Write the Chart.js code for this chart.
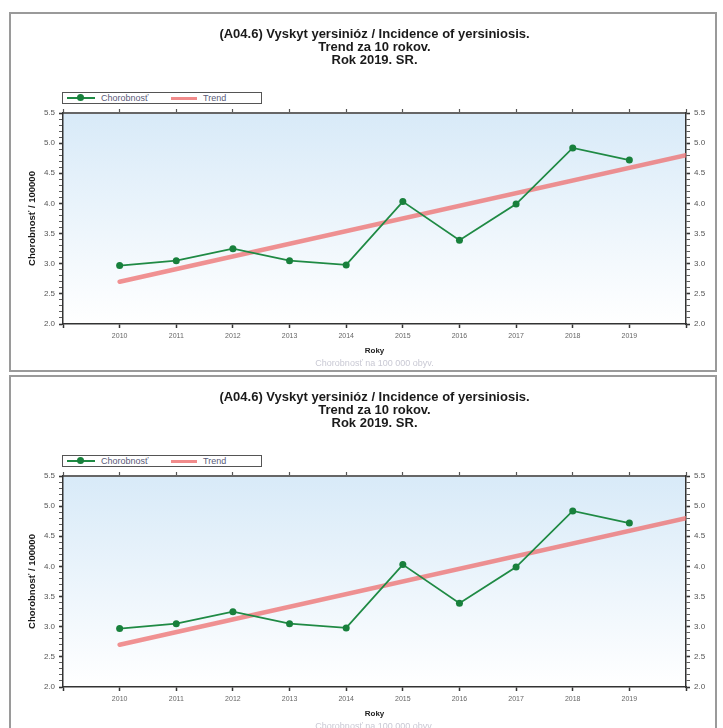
<!DOCTYPE html>
<html>
<head>
<meta charset="utf-8">
<script src="https://cdn.jsdelivr.net/npm/chart.js@4.4.1/dist/chart.umd.min.js"></script>
<style>
  body{margin:0;background:#fff;width:723px;height:728px;overflow:hidden;position:relative;font-family:"Liberation Sans",Arial,sans-serif}
  .frame{position:absolute;left:9px;width:708px;height:360px;box-sizing:border-box;border:2px solid #9a9a9a;background:#fff}
  .frame canvas{position:absolute;left:0;top:0}
  .lgd{position:absolute;left:51px;top:78px;width:200px;height:12px;box-sizing:border-box;border:1px solid #555;background:#fff;font-size:9px;color:#5a5a78}
  .lgd span{position:absolute}
  .lgd .gl{left:4px;top:4px;width:28px;height:2px;background:#1f8a44}
  .lgd .gd{left:14px;top:1px;width:7px;height:7px;border-radius:50%;background:#18803c}
  .lgd .rl{left:108px;top:4px;width:26px;height:3px;background:rgba(238,110,110,.8)}
  .lgd .tx{top:0;line-height:10px}
</style>
</head>
<body>

<div class="frame" style="top:12px">
  <canvas id="chartA" width="704" height="356"></canvas>
  <div class="lgd"><span class="gl"></span><span class="gd"></span><span class="tx" style="left:38px">Chorobnosť</span><span class="rl"></span><span class="tx" style="left:140px">Trend</span></div>
</div>
<div class="frame" style="top:375px">
  <canvas id="chartB" width="704" height="356"></canvas>
  <div class="lgd"><span class="gl"></span><span class="gd"></span><span class="tx" style="left:38px">Chorobnosť</span><span class="rl"></span><span class="tx" style="left:140px">Trend</span></div>
</div>

<script>
/* data */
const YEARS       = [2010,2011,2012,2013,2014,2015,2016,2017,2018,2019];
const INCIDENCE   = [2.97,3.05,3.25,3.05,2.98,4.03,3.39,3.99,4.92,4.72];
const TREND_YEARS = [2010,2020];
const TREND       = [2.70,4.80];
const Y_MIN = 2.0, Y_MAX = 5.5;
const TITLE_LINES = ['(A04.6) Vyskyt yersinióz / Incidence of yersiniosis.','Trend za 10 rokov.','Rok 2019. SR.'];
const Y_TITLE = 'Chorobnosť / 100000';
const X_TITLE = 'Roky';
const FOOTER  = 'Chorobnosť na 100 000 obyv.';

const FONT = '"Liberation Sans", Arial, sans-serif';
const isMajor = v => Math.abs(v*2 - Math.round(v*2)) < 1e-6;
const yLabel  = v => isMajor(v) ? (+v).toFixed(1) : '';
const xLabel  = v => (v >= YEARS[0] && v <= YEARS[YEARS.length-1]) ? String(v) : '';

const plotBg = {
  id:'plotBg',
  beforeDraw(c){
    const {ctx, chartArea:a} = c;
    const g = ctx.createLinearGradient(0,a.top,0,a.bottom);
    g.addColorStop(0,'#d8eaf8');
    g.addColorStop(1,'#ffffff');
    ctx.save();
    ctx.fillStyle = g;
    ctx.fillRect(a.left,a.top,a.right-a.left,a.bottom-a.top);
    ctx.restore();
  }
};

function yAxis(pos, width, withTitle){
  return {
    position:pos, min:Y_MIN, max:Y_MAX,
    ticks:{ stepSize:0.1, autoSkip:false, padding:4, color:'#555', font:{family:FONT,size:8}, callback:yLabel },
    grid:{ drawOnChartArea:false, tickLength:4, tickColor:'#333', tickWidth:c => isMajor(c.tick.value) ? 1.6 : 0.8 },
    border:{ color:'#333', width:1.5 },
    title:{ display:withTitle, text:Y_TITLE, color:'#1a1a1a', font:{family:FONT,size:9.5,weight:'bold',lineHeight:1.2}, padding:{top:16,bottom:0} },
    afterFit:s => { s.width = width; }
  };
}

function buildChart(id){
  const ctx = document.getElementById(id).getContext('2d');
  return new Chart(ctx, {
    type:'line',
    data:{
      datasets:[
        { label:'Chorobnosť', data:YEARS.map((y,i)=>({x:y,y:INCIDENCE[i]})), borderColor:'#1f8a44', borderWidth:1.8,
          pointRadius:3.5, pointBackgroundColor:'#18803c', pointBorderWidth:0, tension:0 },
        { label:'Trend', data:TREND_YEARS.map((y,i)=>({x:y,y:TREND[i]})), borderColor:'rgba(238,110,110,.75)', borderWidth:4.5,
          pointRadius:0, borderCapStyle:'round' }
      ]
    },
    options:{
      responsive:false, animation:false, devicePixelRatio:1,
      layout:{ padding:0 },
      plugins:{
        legend:{ display:false },
        tooltip:{ enabled:false },
        title:{ display:true, fullSize:false, text:TITLE_LINES, color:'#1a1a1a',
          font:{family:FONT,size:13,weight:'bold',lineHeight:1}, padding:{top:14,bottom:0} },
        subtitle:{ display:true, position:'bottom', fullSize:false, text:FOOTER, color:'#c9c9d4',
          font:{family:FONT,size:9,lineHeight:1.1}, padding:{top:0,bottom:2} }
      },
      scales:{
        x:{
          type:'linear', position:'bottom', min:2009, max:2020,
          ticks:{ stepSize:1, autoSkip:false, maxRotation:0, padding:4, color:'#666', font:{family:FONT,size:7}, callback:xLabel },
          grid:{ drawOnChartArea:false, tickLength:4, tickColor:'#333', tickWidth:1.5 },
          border:{ color:'#333', width:1.5 },
          title:{ display:true, text:X_TITLE, color:'#222', font:{family:FONT,size:8,weight:'bold',lineHeight:1.2}, padding:{top:0,bottom:2.5} },
          afterFit:s => { s.height = 34.1; }
        },
        x2:{
          type:'linear', position:'top', min:2009, max:2020,
          ticks:{ stepSize:1, display:false },
          grid:{ drawOnChartArea:false, tickLength:4, tickColor:'#555', tickWidth:1.2 },
          border:{ color:'#666', width:2 },
          afterFit:s => { s.height = 46; }
        },
        y:  yAxis('left', 52, true),
        y2: yAxis('right', 29, false)
      }
    },
    plugins:[plotBg]
  });
}

window.addEventListener('DOMContentLoaded', () => {
  buildChart('chartA');
  buildChart('chartB');
});
</script>
</body>
</html>
